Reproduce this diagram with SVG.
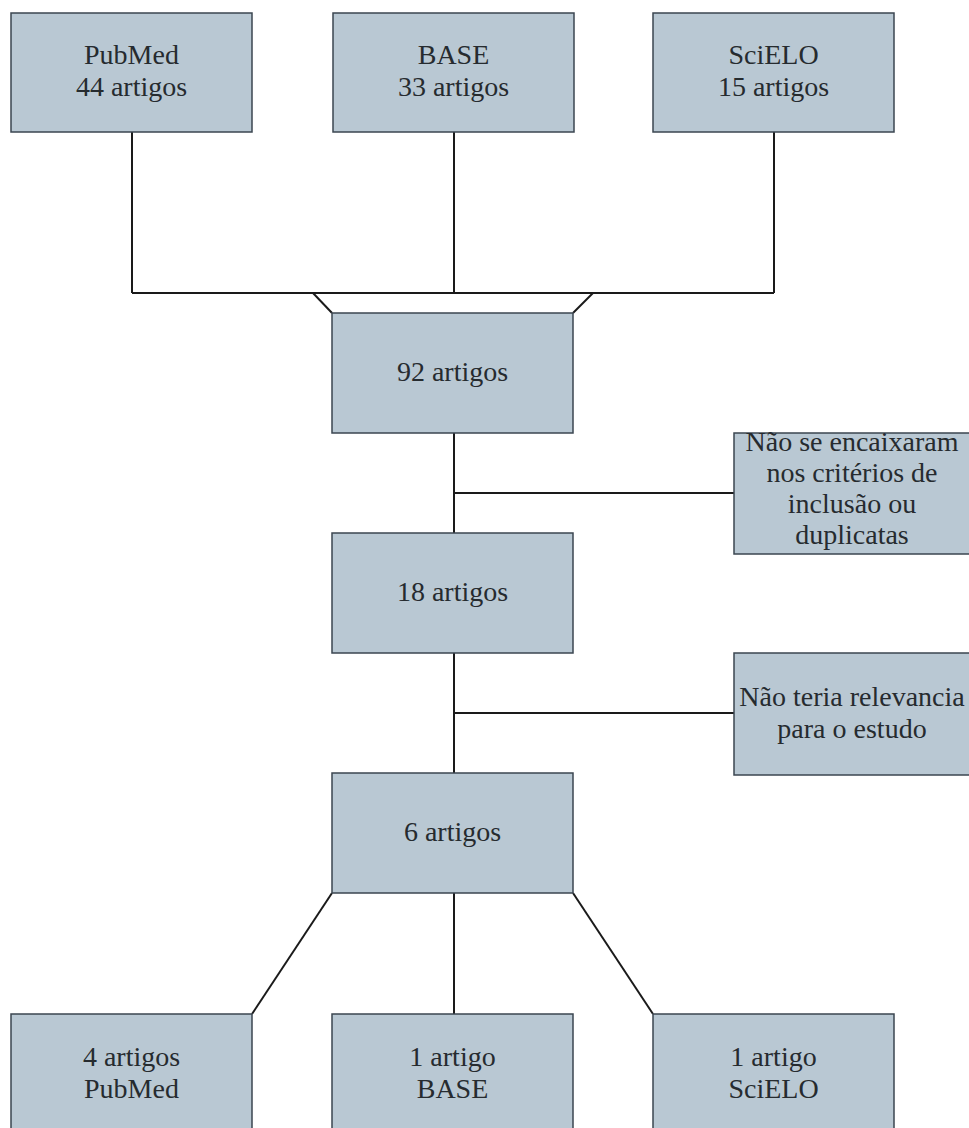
<svg xmlns="http://www.w3.org/2000/svg" width="969" height="1128" viewBox="0 0 969 1128">
<style>
.box{fill:#b9c8d3;stroke:#3b4650;stroke-width:1.5}
.t{font-family:'Liberation Serif','DejaVu Serif',serif;font-size:28px;fill:#262b2f;text-anchor:middle}
.c{stroke:#1a1a1a;stroke-width:2;fill:none}
</style>
<rect width="969" height="1128" fill="#ffffff"/>
<g id="connectors">
<line class="c" x1="132" y1="132" x2="132" y2="293"/>
<line class="c" x1="454" y1="132" x2="454" y2="293"/>
<line class="c" x1="774" y1="132" x2="774" y2="293"/>
<line class="c" x1="132" y1="293" x2="774" y2="293"/>
<line class="c" x1="313" y1="293" x2="332" y2="313"/>
<line class="c" x1="593" y1="293" x2="573" y2="313"/>
<line class="c" x1="454" y1="433" x2="454" y2="533"/>
<line class="c" x1="454" y1="493" x2="734" y2="493"/>
<line class="c" x1="454" y1="653" x2="454" y2="773"/>
<line class="c" x1="454" y1="713" x2="734" y2="713"/>
<line class="c" x1="454" y1="893" x2="454" y2="1014"/>
<line class="c" x1="332" y1="893" x2="252" y2="1014"/>
<line class="c" x1="573" y1="893" x2="653" y2="1014"/>
</g>
<g id="pubmed">
<rect class="box" x="11" y="13" width="241" height="119"/>
<text class="t" x="131.5" y="64">PubMed</text>
<text class="t" x="131.5" y="96">44 artigos</text>
</g>
<g id="base">
<rect class="box" x="333" y="13" width="241" height="119"/>
<text class="t" x="453.5" y="64">BASE</text>
<text class="t" x="453.5" y="96">33 artigos</text>
</g>
<g id="scielo">
<rect class="box" x="653" y="13" width="241" height="119"/>
<text class="t" x="773.5" y="64">SciELO</text>
<text class="t" x="773.5" y="96">15 artigos</text>
</g>
<g id="n92">
<rect class="box" x="332" y="313" width="241" height="120"/>
<text class="t" x="452.5" y="381">92 artigos</text>
</g>
<g id="excl1">
<rect class="box" x="734" y="433" width="241" height="121"/>
<text class="t" x="852" y="451">Não se encaixaram</text>
<text class="t" x="852" y="482">nos critérios de</text>
<text class="t" x="852" y="513">inclusão ou</text>
<text class="t" x="852" y="544">duplicatas</text>
</g>
<g id="n18">
<rect class="box" x="332" y="533" width="241" height="120"/>
<text class="t" x="452.5" y="601">18 artigos</text>
</g>
<g id="excl2">
<rect class="box" x="734" y="653" width="241" height="122"/>
<text class="t" x="852" y="706">Não teria relevancia</text>
<text class="t" x="852" y="738">para o estudo</text>
</g>
<g id="n6">
<rect class="box" x="332" y="773" width="241" height="120"/>
<text class="t" x="452.5" y="841">6 artigos</text>
</g>
<g id="res-pubmed">
<rect class="box" x="11" y="1014" width="241" height="120"/>
<text class="t" x="131.5" y="1066">4 artigos</text>
<text class="t" x="131.5" y="1098">PubMed</text>
</g>
<g id="res-base">
<rect class="box" x="332" y="1014" width="241" height="120"/>
<text class="t" x="452.5" y="1066">1 artigo</text>
<text class="t" x="452.5" y="1098">BASE</text>
</g>
<g id="res-scielo">
<rect class="box" x="653" y="1014" width="241" height="120"/>
<text class="t" x="773.5" y="1066">1 artigo</text>
<text class="t" x="773.5" y="1098">SciELO</text>
</g>
</svg>
